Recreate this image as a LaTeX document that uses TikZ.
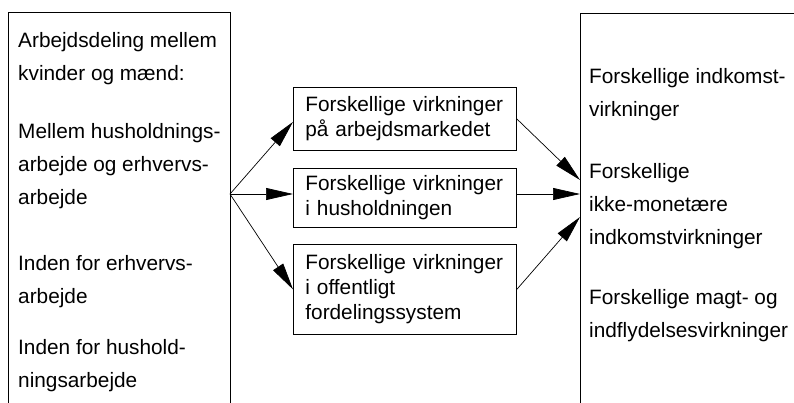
\documentclass[tikz,border=0pt]{standalone}
\usepackage{fontspec}
\setmainfont{Liberation Sans}
\usetikzlibrary{arrows.meta}

\begin{document}
\begin{tikzpicture}[x=1pt,y=-1pt,
    sidetext/.style={anchor=base west, inner sep=0pt, align=left, font=\fontsize{20.8}{33}\selectfont},
    effectbox/.style={draw, line width=0.8pt, anchor=north west, text width=199pt, inner xsep=12pt, inner ysep=0pt, align=left, font=\fontsize{20.8}{25}\selectfont},
    arr/.style={-{Triangle[length=27pt,width=12pt]}, line width=0.7pt}]
    \useasboundingbox (0,0) rectangle (794,403);

    % Left box: division of labour (open at the bottom)
    % (nodes placed at the baseline of their last line)
    \draw[line width=0.8pt] (8,403) -- (8,12) -- (230,12) -- (230,403);
    \node[sidetext] (div) at (18,81) {Arbejdsdeling mellem\\kvinder og mænd:};
    \node[sidetext] (between) at (18,205) {Mellem husholdnings-\\arbejde og erhvervs-\\arbejde};
    \node[sidetext] (paidwork) at (18,303) {Inden for erhvervs-\\arbejde};
    \node[sidetext] (housework) at (18,387) {Inden for hushold-\\ningsarbejde};

    % Right box: consequences (open at the right and bottom)
    \draw[line width=0.8pt] (794,13) -- (580,13) -- (580,403);
    \node[sidetext] (income) at (589,117) {Forskellige indkomst-\\virkninger};
    \node[sidetext] (nonmon) at (589,244) {Forskellige\\ikke-monetære\\indkomstvirkninger};
    \node[sidetext] (power) at (589,337) {Forskellige magt- og\\indflydelsesvirkninger};

    % Middle boxes
    \node[effectbox, minimum height=63pt] (market) at (293,87) {Forskellige virkninger\\på arbejdsmarkedet};
    \node[effectbox, minimum height=59pt] (household) at (293,168) {Forskellige virkninger\\i husholdningen};
    \node[effectbox, minimum height=90pt] (public) at (293,244) {Forskellige virkninger\\i offentligt\\fordelingssystem};

    % Arrow ends on the two big boxes
    \coordinate (src) at (230,194);
    \coordinate (in1) at (580,180);
    \coordinate (in2) at (580,194);
    \coordinate (in3) at (580,217);

    % Arrows
    \draw[arr] (src) -- ([yshift=-3pt]market.west);
    \draw[arr] (src) -- (src -| household.west);
    \draw[arr] (src) -- (public.west);
    \draw[arr] (market.east) -- (in1);
    \draw[arr] (household.east |- in2) -- (in2);
    \draw[arr] (public.east) -- (in3);
\end{tikzpicture}
\end{document}
